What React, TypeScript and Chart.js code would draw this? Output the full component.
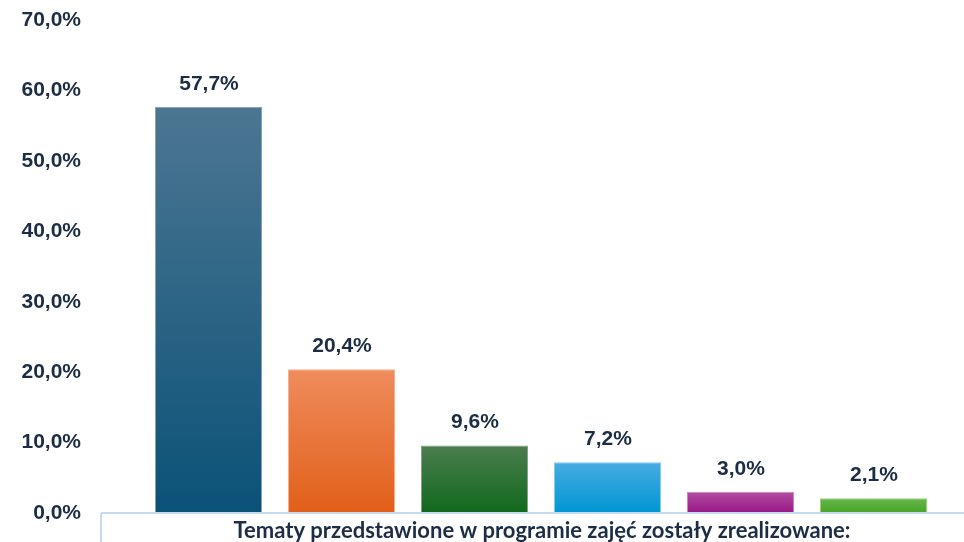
import React, { useEffect, useRef } from "react";
import { Chart, registerables } from "chart.js";

Chart.register(...registerables);

const categories = ["Kategoria 1", "Kategoria 2", "Kategoria 3", "Kategoria 4", "Kategoria 5", "Kategoria 6"];
const values = [57.7, 20.4, 9.6, 7.2, 3.0, 2.1];
const topColors = ["#4c7692", "#ef8c5d", "#4b7d4f", "#48abe2", "#b14ea2", "#68b74a"];
const bottomColors = ["#0b5278", "#e15f18", "#10691c", "#0096d3", "#981785", "#47a327"];
const borderColors = ["#7fa0b7", "#f4b08f", "#80a283", "#86c9ed", "#cc86c2", "#98d081"];
const axisTitle = "Tematy przedstawione w programie zajęć zostały zrealizowane:";
const yTicks = [0, 10, 20, 30, 40, 50, 60, 70];

const textColor = "#1c2d45";
const fmt = (v: number) => v.toFixed(1).replace(".", ",") + "%";

const decorPlugin = {
  id: "decor",
  afterDatasetsDraw(chart: any) {
    const { ctx, chartArea } = chart;
    const meta = chart.getDatasetMeta(0);
    ctx.save();
    ctx.fillStyle = textColor;
    ctx.font = "bold 21px 'Liberation Sans', Arial, sans-serif";
    ctx.textAlign = "center";
    ctx.textBaseline = "alphabetic";
    meta.data.forEach((bar: any, i: number) => {
      ctx.fillText(fmt(values[i]), bar.x + 0.5, bar.y - 17);
    });
    // axis line & box
    ctx.strokeStyle = "#c6daf0";
    ctx.lineWidth = 2;
    ctx.beginPath();
    ctx.moveTo(101, chartArea.bottom);
    ctx.lineTo(chart.width, chartArea.bottom);
    ctx.moveTo(101, chartArea.bottom);
    ctx.lineTo(101, chart.height);
    ctx.stroke();
    // axis title
    ctx.font = "700 22px Lato, 'Open Sans', sans-serif";
    ctx.textBaseline = "alphabetic";
    ctx.fillText(axisTitle, (chartArea.left + chartArea.right) / 2 + 1, chartArea.bottom + 25);
    ctx.restore();
  },
};

export default function App() {
  const ref = useRef<HTMLCanvasElement | null>(null);
  useEffect(() => {
    if (!ref.current) return;
    const grad = (colorsTop: string[], colorsBottom: string[]) => (c: any) => {
      const chart = c.chart;
      const area = chart.chartArea;
      if (!area || c.dataIndex === undefined) return colorsBottom[c.dataIndex ?? 0];
      const top = chart.scales.y.getPixelForValue(values[c.dataIndex]);
      const g = chart.ctx.createLinearGradient(0, top, 0, area.bottom);
      g.addColorStop(0, colorsTop[c.dataIndex]);
      g.addColorStop(1, colorsBottom[c.dataIndex]);
      return g;
    };
    const chart = new Chart(ref.current, {
      type: "bar",
      data: {
        labels: categories,
        datasets: [
          {
            data: values,
            backgroundColor: grad(topColors, bottomColors),
            borderColor: borderColors,
            borderWidth: 1,
            categoryPercentage: 1,
            barPercentage: 0.805,
          },
        ],
      },
      options: {
        animation: false,
        responsive: false,
        maintainAspectRatio: false,
        layout: { padding: { top: 20, right: 24, bottom: 29, left: 0 } },
        plugins: { legend: { display: false }, tooltip: { enabled: false } },
        scales: {
          x: { display: false },
          y: {
            min: 0,
            max: 70,
            afterFit: (s: any) => {
              s.width = 142;
              s.paddingTop = 0;
              s.paddingBottom = 0;
            },
            afterBuildTicks: (s: any) => {
              s.ticks = yTicks.map((v) => ({ value: v }));
            },
            grid: { display: false, drawTicks: false },
            border: { display: false },
            ticks: {
              padding: 61,
              color: textColor,
              font: { family: "'Liberation Sans', Arial, sans-serif", size: 21, weight: "bold" },
              callback: (v: any) => fmt(Number(v)),
            },
          },
        },
      },
      plugins: [decorPlugin],
    });
    return () => chart.destroy();
  }, []);
  return (
    <div style={{ position: "fixed", left: 0, top: 0, width: 964, height: 542, background: "#fff" }}>
      <canvas ref={ref} width={964} height={542} style={{ display: "block" }} />
    </div>
  );
}
